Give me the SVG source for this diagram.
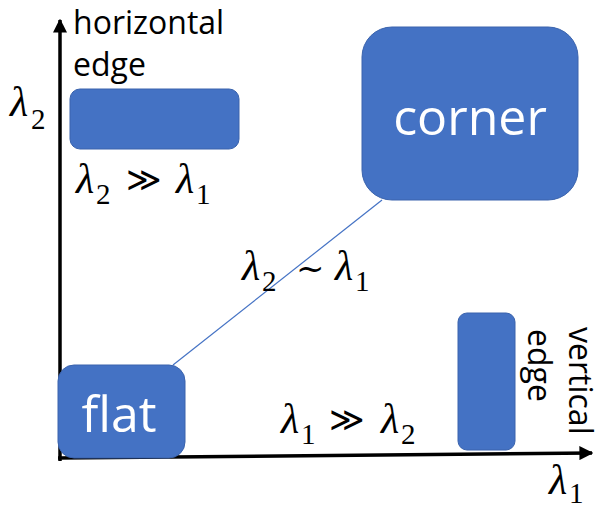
<svg xmlns="http://www.w3.org/2000/svg" width="602" height="508" viewBox="0 0 602 508">
<style>
.box{fill:#4472C4;stroke:#3a63ad;stroke-width:1}
.lbl{font-family:"Open Sans","Noto Sans",sans-serif;fill:#000;font-size:32px}
.wl{font-family:"Open Sans","Noto Sans",sans-serif;fill:#fff;font-size:50px}
.lam{font-family:"Liberation Serif","DejaVu Serif",serif;font-style:italic;font-size:42px;fill:#000}
.sub{font-family:"Liberation Serif","DejaVu Serif",serif;font-size:29px;fill:#000}
.op{font-family:"DejaVu Serif","Liberation Serif",serif;font-size:34px;fill:#000}
</style>
<defs>
<marker id="ah" viewBox="0 0 10 10" refX="9" refY="5" markerWidth="4" markerHeight="4" orient="auto" markerUnits="strokeWidth">
<path d="M0,0 L10,5 L0,10 z" fill="#000"/>
</marker>
</defs>
<g id="axes">
<line x1="60" y1="461" x2="60" y2="20" stroke="#000" stroke-width="3.5" marker-end="url(#ah)"/>
<line x1="58" y1="458" x2="592" y2="453" stroke="#000" stroke-width="3.5" marker-end="url(#ah)"/>
</g>
<g id="connectors">
<line x1="173" y1="365" x2="382" y2="200" stroke="#4472C4" stroke-width="1.2"/>
</g>
<g id="horizontal-edge">
<rect class="box" x="70" y="89" width="169" height="60" rx="10"/>
<text class="lbl" x="73" y="34">horizontal</text>
<text class="lbl" x="73" y="76">edge</text>
</g>
<g id="corner">
<rect class="box" x="362" y="27" width="216" height="173" rx="30"/>
<text class="wl" x="470" y="135" text-anchor="middle">corner</text>
</g>
<g id="flat">
<rect class="box" x="58" y="365" width="127" height="93" rx="16"/>
<text class="wl" x="119" y="432" text-anchor="middle">flat</text>
</g>
<g id="vertical-edge">
<rect class="box" x="458" y="313" width="57" height="137" rx="9"/>
<text class="lbl" transform="translate(528,329) rotate(90)">edge</text>
<text class="lbl" transform="translate(569,327) rotate(90)">vertical</text>
</g>
<g id="labels">
<text class="lam" x="10" y="116">λ</text><text class="sub" x="31" y="129">2</text>
<text class="lam" x="76" y="193">λ</text><text class="sub" x="96" y="204">2</text>
<text class="op" x="126" y="191">≫</text>
<text class="lam" x="176" y="193">λ</text><text class="sub" x="196" y="204">1</text>
<text class="lam" x="242" y="280">λ</text><text class="sub" x="262" y="291">2</text>
<text class="op" x="296" y="280">~</text>
<text class="lam" x="335" y="280">λ</text><text class="sub" x="355" y="291">1</text>
<text class="lam" x="281" y="433">λ</text><text class="sub" x="301" y="444">1</text>
<text class="op" x="329" y="431">≫</text>
<text class="lam" x="381" y="433">λ</text><text class="sub" x="401" y="444">2</text>
<text class="lam" x="549" y="494">λ</text><text class="sub" x="569" y="503">1</text>
</g>
</svg>
